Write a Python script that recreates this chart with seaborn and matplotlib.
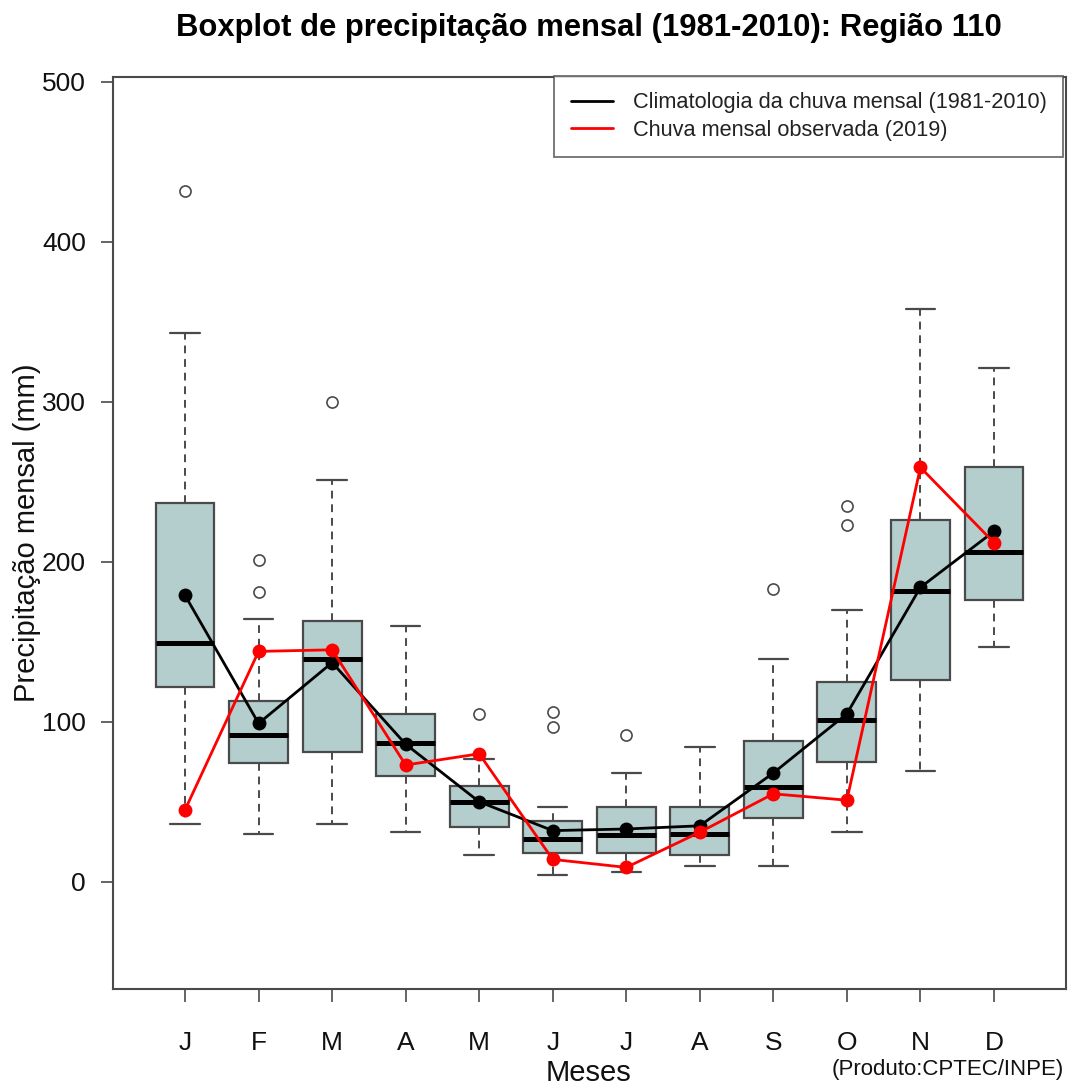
import numpy as np
import pandas as pd
import matplotlib
matplotlib.use("Agg")
import matplotlib.pyplot as plt
from matplotlib.lines import Line2D
import seaborn as sns

# ---------------- data ----------------
months = ["J", "F", "M", "A", "M", "J", "J", "A", "S", "O", "N", "D"]
whisker_low = [36, 30, 36, 31, 17, 4, 6, 10, 10, 31, 69, 147]
q1 = [122, 74, 81, 66, 34, 18, 18, 17, 40, 75, 126, 176]
median = [149, 92, 139, 87, 50, 27, 29, 30, 59, 101, 182, 206]
q3 = [237, 113, 163, 105, 60, 38, 47, 47, 88, 125, 226, 259]
whisker_high = [343, 164, 251, 160, 77, 47, 68, 84, 139, 170, 358, 321]
outliers = [[432], [201, 181], [300], [], [105], [106, 97], [92], [], [183],
            [235, 223], [], []]
clim_mean = [179, 99, 137, 86, 50, 32, 33, 35, 68, 105, 184, 219]
obs_2019 = [45, 144, 145, 73, 80, 14, 9, 31, 55, 51, 259, 212]

title = "Boxplot de precipitação mensal (1981-2010): Região 110"
ylabel = "Precipitação mensal (mm)"
xlabel = "Meses"
credit = "(Produto:CPTEC/INPE)"
legend_labels = ["Climatologia da chuva mensal (1981-2010)",
                 "Chuva mensal observada (2019)"]

# ---------------- style ----------------
sns.set_theme(style="white")
plt.rcParams["font.family"] = ["Liberation Sans", "DejaVu Sans"]

W, H = 1068, 1086
fig = plt.figure(figsize=(W / 100, H / 100), dpi=100)
ax = fig.add_axes([113 / W, (H - 989) / H, (1066 - 113) / W, (989 - 77) / H])

pos = np.arange(len(months))
stats = []
for i in range(len(months)):
    stats.append(dict(med=median[i], q1=q1[i], q3=q3[i],
                      whislo=whisker_low[i], whishi=whisker_high[i],
                      fliers=outliers[i], label=months[i]))

edge = "#4a4a4a"
ax.bxp(stats, positions=pos, widths=0.8, patch_artist=True,
       boxprops=dict(facecolor="#B4CDCD", edgecolor=edge, linewidth=1.6),
       medianprops=dict(color="black", linewidth=3.6, solid_capstyle="butt"),
       whiskerprops=dict(color=edge, linewidth=1.4, linestyle=(0, (4, 3))),
       capprops=dict(color=edge, linewidth=1.6),
       capwidths=0.4,
       flierprops=dict(marker="o", markerfacecolor="none", markeredgecolor=edge,
                       markersize=8, markeredgewidth=1.2),
       zorder=2)

df = pd.DataFrame({"pos": pos, "mean": clim_mean, "obs": obs_2019})
sns.lineplot(data=df, x="pos", y="mean", color="black", linewidth=2.0,
             marker="o", markersize=10, markeredgewidth=0, ax=ax,
             legend=False, zorder=4)
sns.lineplot(data=df, x="pos", y="obs", color="#FF0000", linewidth=2.0,
             marker="o", markersize=10, markeredgewidth=0, ax=ax,
             legend=False, zorder=5)

ax.set_xlim(-0.98, 11.98)
ax.set_ylim(-67, 503)
ax.set_xticks(pos)
ax.set_xticklabels(months)
ax.set_yticks([0, 100, 200, 300, 400, 500])
ax.tick_params(axis="x", length=9, width=1.2, color=edge, pad=21,
               labelsize=19, labelcolor="#111111", direction="out", bottom=True)
ax.tick_params(axis="y", length=8.5, width=1.2, color=edge, pad=11,
               labelsize=19, labelcolor="#111111", direction="out", left=True)
for s in ax.spines.values():
    s.set_color(edge)
    s.set_linewidth(1.5)
    s.set_visible(True)
ax.grid(False)
ax.set_xlabel("")
ax.set_ylabel("")

fig.text(589 / W, 1 - 28 / H, title, ha="center", va="center",
         fontsize=22.3, fontweight="bold", color="black")
fig.text(27 / W, 1 - 533 / H, ylabel, ha="center", va="center",
         rotation=90, fontsize=21, color="#111111")
fig.text(589 / W, 1 - 1073 / H, xlabel, ha="center", va="center",
         fontsize=21, color="#111111")
fig.text(1064 / W, 1 - 1069 / H, credit, ha="right", va="center",
         fontsize=16, color="#111111")

handles = [Line2D([0], [0], color="black", linewidth=2.0),
           Line2D([0], [0], color="#FF0000", linewidth=2.0)]
leg = ax.legend(handles, legend_labels, loc="upper right",
                bbox_to_anchor=(1063 / W, 1 - 76 / H),
                bbox_transform=fig.transFigure, borderaxespad=0,
                fontsize=15.7, frameon=True, fancybox=False,
                handlelength=1.95, handletextpad=0.9, borderpad=0.75,
                labelspacing=0.3, labelcolor="#222222")
leg.get_frame().set_edgecolor(edge)
leg.get_frame().set_linewidth(1.3)
leg.get_frame().set_facecolor("white")

fig.savefig("out.png", dpi=100)
